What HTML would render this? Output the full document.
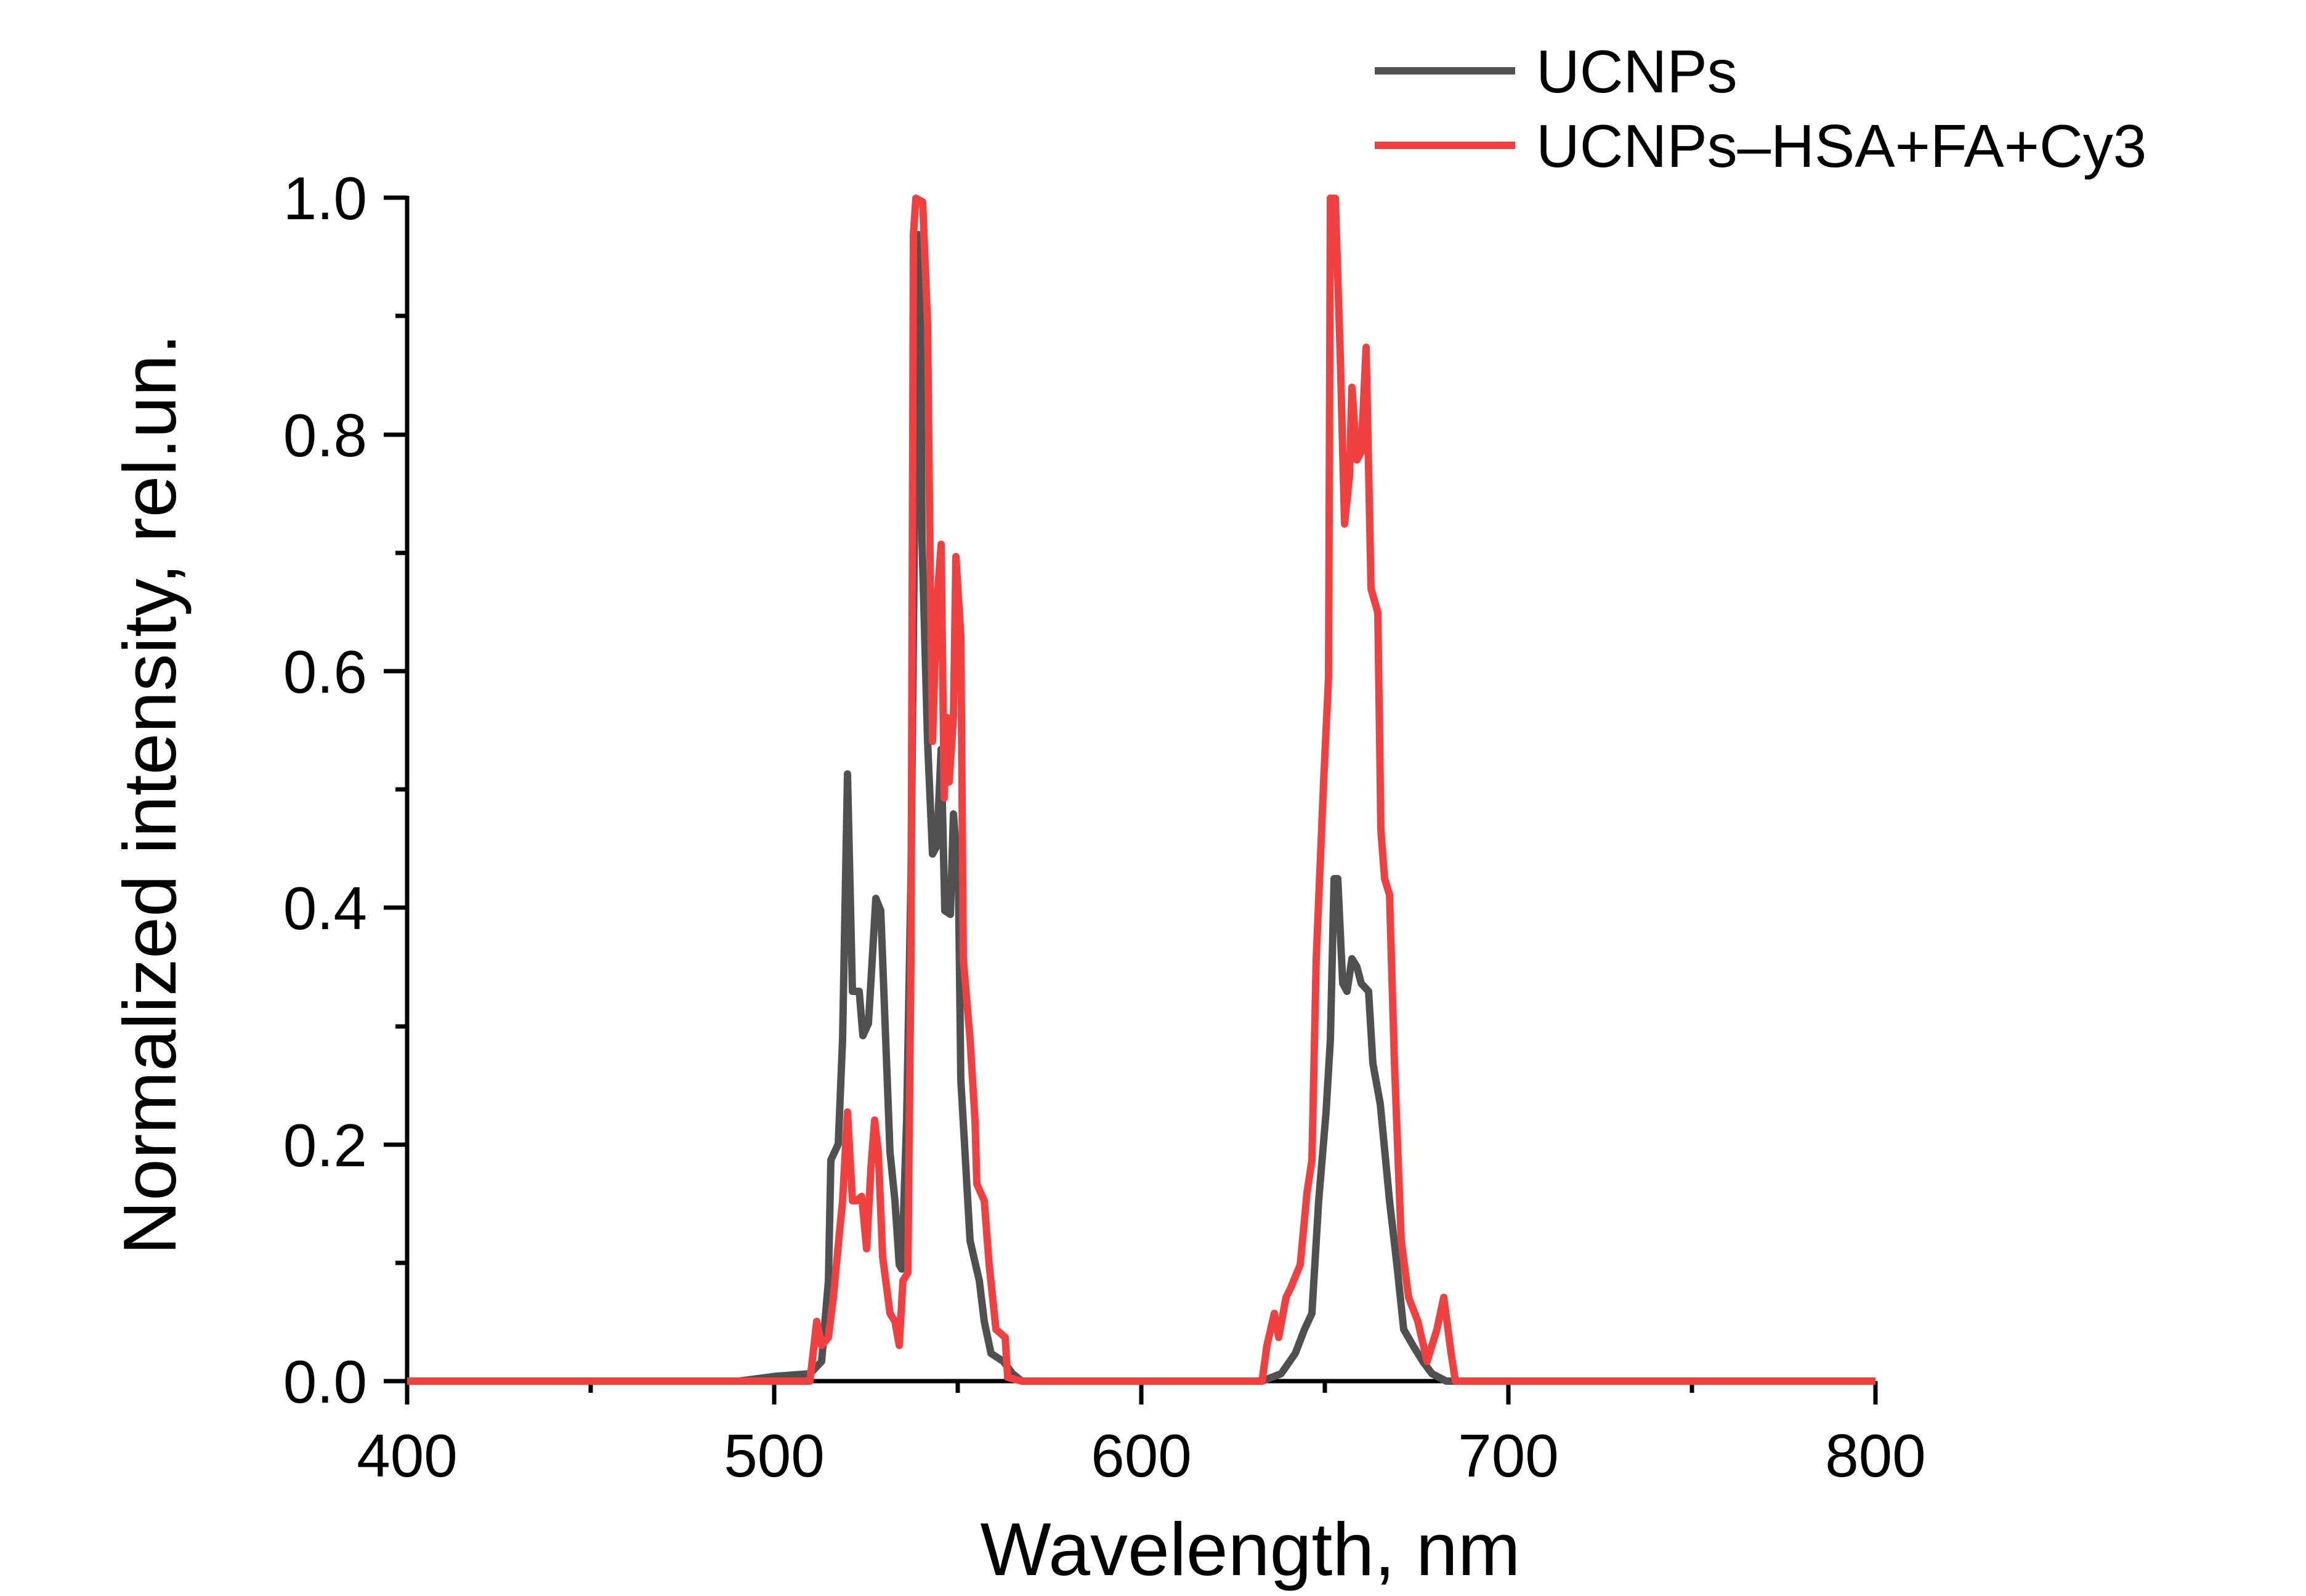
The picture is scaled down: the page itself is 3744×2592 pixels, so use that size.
<!DOCTYPE html>
<html><head><meta charset="utf-8"><style>
html,body{margin:0;padding:0;background:#fff}
svg{display:block}
text{font-family:"Liberation Sans",Arial,sans-serif;fill:#000}
</style></head><body>
<svg width="3744" height="2592" viewBox="0 0 3744 2592" xmlns="http://www.w3.org/2000/svg">
<rect width="3744" height="2592" fill="#fff"/>
<g stroke="#000" stroke-width="7" fill="none">
<line x1="661" y1="318" x2="661" y2="2247"/>
<line x1="657" y1="2243" x2="3045" y2="2243"/>
<line x1="623" y1="321" x2="661" y2="321"/>
<line x1="642" y1="513" x2="661" y2="513"/>
<line x1="623" y1="706" x2="661" y2="706"/>
<line x1="642" y1="898" x2="661" y2="898"/>
<line x1="623" y1="1090" x2="661" y2="1090"/>
<line x1="642" y1="1282" x2="661" y2="1282"/>
<line x1="623" y1="1474" x2="661" y2="1474"/>
<line x1="642" y1="1667" x2="661" y2="1667"/>
<line x1="623" y1="1859" x2="661" y2="1859"/>
<line x1="642" y1="2051" x2="661" y2="2051"/>
<line x1="623" y1="2243" x2="661" y2="2243"/>
<line x1="661" y1="2243" x2="661" y2="2281"/>
<line x1="959" y1="2243" x2="959" y2="2262"/>
<line x1="1257" y1="2243" x2="1257" y2="2281"/>
<line x1="1555" y1="2243" x2="1555" y2="2262"/>
<line x1="1853" y1="2243" x2="1853" y2="2281"/>
<line x1="2151" y1="2243" x2="2151" y2="2262"/>
<line x1="2449" y1="2243" x2="2449" y2="2281"/>
<line x1="2747" y1="2243" x2="2747" y2="2262"/>
<line x1="3045" y1="2243" x2="3045" y2="2281"/>
</g>
<g font-size="98" text-anchor="end">
<text x="596" y="356">1.0</text>
<text x="596" y="741">0.8</text>
<text x="596" y="1125">0.6</text>
<text x="596" y="1509">0.4</text>
<text x="596" y="1894">0.2</text>
<text x="596" y="2278">0.0</text>
</g>
<g font-size="98" text-anchor="middle">
<text x="661" y="2398">400</text>
<text x="1257" y="2398">500</text>
<text x="1853" y="2398">600</text>
<text x="2449" y="2398">700</text>
<text x="3045" y="2398">800</text>
</g>
<text x="2030" y="2558" font-size="122" text-anchor="middle">Wavelength, nm</text>
<text transform="translate(285,1290) rotate(-90)" font-size="122" text-anchor="middle">Normalized intensity, rel.un.</text>
<g fill="none" stroke-width="12" stroke-linejoin="round">
<polyline stroke="#505050" points="661,2243 1200,2243 1261,2235 1315,2231 1334,2211 1345,2080 1349,1884 1361,1858 1368,1688 1376,1257 1384,1610 1395,1610 1401,1682 1410,1662 1422,1459 1430,1479 1437,1662 1445,1871 1453,1950 1460,2054 1464,2061 1472,1819 1479,1427 1487,642 1491,381 1495,551 1497,878 1506,1204 1514,1387 1521,1374 1528,1217 1534,1479 1543,1485 1548,1322 1556,1427 1560,1754 1575,2015 1590,2080 1598,2146 1609,2198 1629,2211 1644,2231 1659,2243 2049,2243 2080,2231 2103,2198 2118,2159 2130,2133 2141,1950 2153,1806 2160,1688 2166,1427 2172,1427 2180,1597 2187,1610 2195,1557 2203,1570 2210,1597 2222,1610 2229,1727 2241,1793 2256,1950 2268,2054 2279,2159 2294,2185 2310,2211 2325,2231 2348,2243 3045,2243"/>
<polyline stroke="#F04040" points="661,2243 1315,2243 1326,2146 1334,2185 1345,2172 1353,2107 1361,2022 1368,1950 1376,1806 1384,1950 1391,1950 1399,1943 1407,2028 1414,1897 1420,1819 1426,1871 1433,2041 1445,2133 1453,2146 1460,2185 1466,2080 1474,2067 1479,1557 1483,381 1487,322 1498,328 1506,525 1510,904 1514,1204 1521,982 1528,884 1533,1296 1537,1165 1541,1270 1548,1165 1552,904 1560,1034 1564,1557 1575,1688 1583,1819 1586,1923 1598,1950 1606,2054 1617,2159 1632,2172 1636,2237 1659,2243 2049,2243 2057,2185 2069,2133 2076,2172 2088,2107 2095,2093 2111,2054 2122,1937 2130,1884 2137,1557 2149,1270 2157,1100 2160,322 2168,322 2176,577 2183,851 2191,773 2195,629 2203,747 2210,734 2218,564 2226,956 2237,995 2242,1348 2248,1427 2256,1453 2264,1727 2275,2015 2287,2107 2302,2146 2317,2211 2333,2159 2344,2107 2356,2198 2363,2243 3045,2243"/>
</g>
<line x1="2232" y1="115" x2="2460" y2="115" stroke="#505050" stroke-width="12"/>
<line x1="2232" y1="236" x2="2460" y2="236" stroke="#F04040" stroke-width="12"/>
<text x="2494" y="150" font-size="98">UCNPs</text>
<text x="2494" y="271" font-size="98">UCNPs–HSA+FA+Cy3</text>
</svg>
</body></html>
